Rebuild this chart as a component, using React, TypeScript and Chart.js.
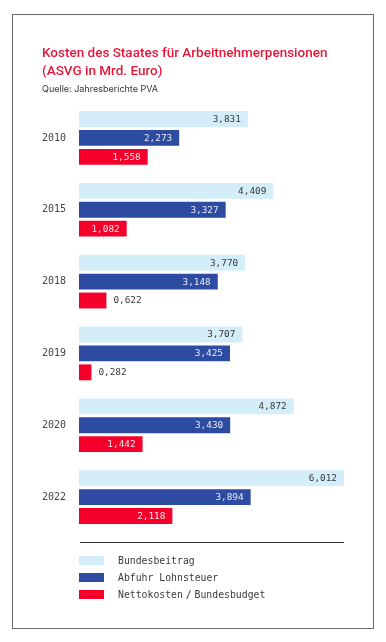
import React, { useEffect, useRef } from "react";
import { Chart, registerables } from "chart.js";

Chart.register(...registerables);

const categories = ["2010", "2015", "2018", "2019", "2020", "2022"];
const bundesbeitrag = [3.831, 4.409, 3.77, 3.707, 4.872, 6.012];
const abfuhrLohnsteuer = [2.273, 3.327, 3.148, 3.425, 3.43, 3.894];
const nettokosten = [1.558, 1.082, 0.622, 0.282, 1.442, 2.118];
const seriesLabels = ["Bundesbeitrag", "Abfuhr Lohnsteuer", "Nettokosten / Bundesbudget"];
const seriesColors = ["#d3edf9", "#2c4ba1", "#f5002b"];
const insideTextColors = ["#3a3a3a", "#e8ecf7", "#fde6ea"];
const xMax = 6.012;

const MONO = "'DejaVu Sans Mono', 'Liberation Mono', monospace";
const SANS = "Inter, 'Noto Sans', sans-serif";
const TITLE_FONT = "Roboto, 'Noto Sans', sans-serif";

const fmt = (v: number) => v.toFixed(3).replace(".", ",");

const valueLabelPlugin = {
  id: "valueLabels",
  afterDatasetsDraw(chart: any) {
    const ctx = chart.ctx;
    ctx.save();
    ctx.font = `9.4px ${MONO}`;
    ctx.textBaseline = "middle";
    chart.data.datasets.forEach((ds: any, di: number) => {
      const meta = chart.getDatasetMeta(di);
      meta.data.forEach((bar: any, i: number) => {
        const text = fmt(ds.data[i]);
        const w = ctx.measureText(text).width;
        const pad = 7;
        const barW = bar.x - bar.base;
        if (barW > w + pad * 2) {
          ctx.textAlign = "right";
          ctx.fillStyle = insideTextColors[di];
          ctx.fillText(text, bar.x - pad, bar.y + 0.5);
        } else {
          ctx.textAlign = "left";
          ctx.fillStyle = "#3a3a3a";
          ctx.fillText(text, bar.x + pad, bar.y + 0.5);
        }
      });
    });
    ctx.restore();
  },
};

export default function App() {
  const ref = useRef<HTMLCanvasElement>(null);

  useEffect(() => {
    if (!ref.current) return;
    const seriesData = [bundesbeitrag, abfuhrLohnsteuer, nettokosten];
    const chart = new Chart(ref.current, {
      type: "bar",
      data: {
        labels: categories,
        datasets: seriesData.map((d, i) => ({
          label: seriesLabels[i],
          data: d,
          backgroundColor: seriesColors[i],
          borderWidth: 0,
          categoryPercentage: 0.79,
          barPercentage: 0.84,
        })),
      },
      options: {
        indexAxis: "y",
        animation: false,
        responsive: false,
        maintainAspectRatio: false,
        layout: { padding: { left: 42, right: 42, top: 102, bottom: 109 } },
        plugins: { legend: { display: false }, tooltip: { enabled: false }, title: { display: false } },
        scales: {
          x: { display: false, min: 0, max: xMax },
          y: {
            grid: { display: false, drawTicks: false },
            border: { display: false },
            ticks: {
              padding: 13,
              color: "#444",
              font: { family: MONO, size: 10 },
            },
            afterFit(scale: any) {
              scale.width = 37;
            },
          },
        },
      },
      plugins: [valueLabelPlugin],
    } as any);
    return () => chart.destroy();
  }, []);

  return (
    <div style={{ position: "absolute", left: 0, top: 0, width: 386, height: 642, background: "#fff", overflow: "hidden" }}>
      <div
        style={{
          position: "absolute",
          left: 12,
          top: 14,
          width: 362,
          height: 615,
          border: "1px solid #6a6a6a",
          boxSizing: "border-box",
        }}
      />
      <canvas ref={ref} width={386} height={642} style={{ position: "absolute", left: 0, top: 0, width: 386, height: 642 }} />
      <div
        style={{
          position: "absolute",
          left: 42,
          top: 43,
          fontFamily: TITLE_FONT,
          fontSize: 13.5,
          lineHeight: "18px",
          fontWeight: 500,
          color: "#e5173b",
          whiteSpace: "nowrap",
        }}
      >
        Kosten des Staates für Arbeitnehmerpensionen
        <br />
        (ASVG in Mrd. Euro)
      </div>
      <div
        style={{
          position: "absolute",
          left: 42,
          top: 83,
          fontFamily: SANS,
          fontSize: 9,
          lineHeight: "11px",
          color: "#333",
          whiteSpace: "nowrap",
        }}
      >
        Quelle: Jahresberichte PVA
      </div>
      <div style={{ position: "absolute", left: 80, top: 542, width: 264, height: 1, background: "#333" }} />
      {seriesLabels.map((label, i) => (
        <div key={label} style={{ position: "absolute", left: 79, top: 556 + i * 17, height: 9, display: "flex", alignItems: "center" }}>
          <div style={{ width: 25, height: 9, background: seriesColors[i] }} />
          <div
            style={{
              marginLeft: 14,
              fontFamily: MONO,
              fontSize: 9.8,
              lineHeight: "9px",
              color: "#3a3a3a",
              whiteSpace: "nowrap",
              wordSpacing: label.includes("/") ? -3 : 0,
            }}
          >
            {label}
          </div>
        </div>
      ))}
    </div>
  );
}
